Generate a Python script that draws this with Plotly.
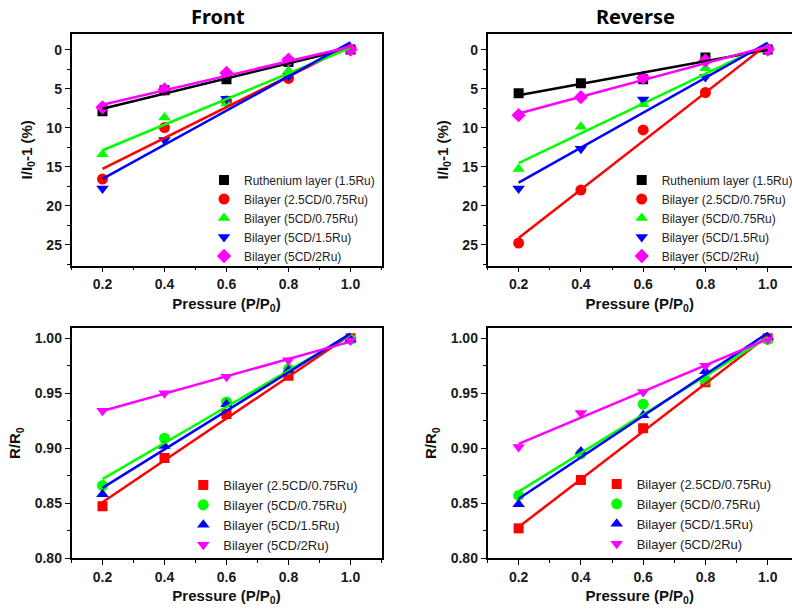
import numpy as np
import plotly.graph_objects as go

# ---------------- data ----------------
pressure = [0.2, 0.4, 0.6, 0.8, 1.0]

# Front, I/I0-1 (%)
front_i_ru15 = [7.9, 5.2, 3.8, 1.6, 0.0]
front_i_25cd075 = [16.6, 10.0, 6.6, 3.7, 0.0]
front_i_5cd075 = [13.4, 8.7, 6.9, 2.7, 0.0]
front_i_5cd15 = [17.8, 11.6, 6.3, 3.4, 0.0]
front_i_5cd2 = [7.4, 5.1, 3.0, 1.3, 0.0]

# Reverse, I/I0-1 (%)
rev_i_ru15 = [5.6, 4.3, 3.8, 1.0, 0.0]
rev_i_25cd075 = [24.8, 18.0, 10.3, 5.5, 0.0]
rev_i_5cd075 = [15.3, 9.9, 7.0, 2.4, 0.0]
rev_i_5cd15 = [17.8, 12.7, 6.4, 3.5, 0.0]
rev_i_5cd2 = [8.4, 6.1, 3.6, 1.4, 0.0]

# Front, R/R0
front_r_25cd075 = [0.847, 0.891, 0.931, 0.966, 1.000]
front_r_5cd075 = [0.866, 0.909, 0.942, 0.972, 0.999]
front_r_5cd15 = [0.858, 0.902, 0.940, 0.971, 0.999]
front_r_5cd2 = [0.934, 0.950, 0.965, 0.980, 0.998]

# Reverse, R/R0
rev_r_25cd075 = [0.827, 0.871, 0.918, 0.960, 1.000]
rev_r_5cd075 = [0.857, 0.895, 0.940, 0.962, 0.999]
rev_r_5cd15 = [0.849, 0.897, 0.930, 0.970, 1.001]
rev_r_5cd2 = [0.901, 0.932, 0.951, 0.975, 0.999]

names_top = ["Ruthenium layer (1.5Ru)", "Bilayer (2.5CD/0.75Ru)", "Bilayer (5CD/0.75Ru)",
             "Bilayer (5CD/1.5Ru)", "Bilayer (5CD/2Ru)"]
names_bot = ["Bilayer (2.5CD/0.75Ru)", "Bilayer (5CD/0.75Ru)", "Bilayer (5CD/1.5Ru)",
             "Bilayer (5CD/2Ru)"]

colors_top = ["#000000", "#FF0000", "#00FF00", "#0000FF", "#FF00FF"]
symbols_top = ["square", "circle", "triangle-up", "triangle-down", "diamond"]
sizes_top = [10, 11, 11, 11, 11]
colors_bot = ["#FF0000", "#00FF00", "#0000FF", "#FF00FF"]
symbols_bot = ["square", "circle", "triangle-up", "triangle-down"]
sizes_bot = [10, 11, 11, 11]

panels = [
    ("x", "y", "legend", [front_i_ru15, front_i_25cd075, front_i_5cd075, front_i_5cd15, front_i_5cd2],
     names_top, colors_top, symbols_top, sizes_top),
    ("x2", "y2", "legend2", [rev_i_ru15, rev_i_25cd075, rev_i_5cd075, rev_i_5cd15, rev_i_5cd2],
     names_top, colors_top, symbols_top, sizes_top),
    ("x3", "y3", "legend3", [front_r_25cd075, front_r_5cd075, front_r_5cd15, front_r_5cd2],
     names_bot, colors_bot, symbols_bot, sizes_bot),
    ("x4", "y4", "legend4", [rev_r_25cd075, rev_r_5cd075, rev_r_5cd15, rev_r_5cd2],
     names_bot, colors_bot, symbols_bot, sizes_bot),
]

fig = go.Figure()
for xa, ya, lg, series, names, cols, syms, sz in panels:
    for vals, nm, c, s, ms in zip(series, names, cols, syms, sz):
        fig.add_trace(go.Scatter(x=pressure, y=vals, mode="markers", name=nm,
                                 marker=dict(color=c, symbol=s, size=ms, line=dict(width=0)),
                                 xaxis=xa, yaxis=ya, legend=lg))
    for vals, c in zip(series, cols):
        k, b = np.polyfit(pressure, vals, 1)
        xe = [pressure[0], pressure[-1]]
        fig.add_trace(go.Scatter(x=xe, y=[k * v + b for v in xe], mode="lines",
                                 line=dict(color=c, width=2.5), showlegend=False,
                                 hoverinfo="skip", xaxis=xa, yaxis=ya))

W, H = 792, 610
def px_x(a, b):
    return [a / W, b / W]
def px_y(top, bottom):
    return [(H - bottom) / H, (H - top) / H]

tickfont = dict(family="Liberation Sans, Arial", size=14, color="#1a1a1a", weight="bold")
titlefont = dict(family="Liberation Sans, Arial", size=15, color="#111111", weight="bold")

def xax(dom, rng, anchor):
    return dict(domain=dom, range=rng, anchor=anchor, showgrid=False, zeroline=False,
                showline=True, linecolor="black", linewidth=1.5, mirror=True,
                ticks="outside", ticklen=5, tickwidth=1.2, tickcolor="black",
                tick0=0.2, dtick=0.2, tickformat=".1f", tickfont=tickfont,
                minor=dict(dtick=0.1, tick0=0.1, ticks="outside", ticklen=3, tickwidth=1.2, tickcolor="black"),
                title=dict(text="Pressure (P/P<sub>0</sub>)", font=titlefont, standoff=7))

def yax(dom, rng, anchor, dt, mdt, fmt, title):
    return dict(domain=dom, range=rng, anchor=anchor, showgrid=False, zeroline=False,
                showline=True, linecolor="black", linewidth=1.5, mirror=True,
                ticks="outside", ticklen=5, tickwidth=1.2, tickcolor="black",
                tick0=0, dtick=dt, tickformat=fmt, tickfont=tickfont,
                minor=dict(dtick=mdt, ticks="outside", ticklen=3, tickwidth=1.2, tickcolor="black"),
                title=dict(text=title, font=titlefont, standoff=10))

xl = px_x(71.5, 381.5)
xr = px_x(487.5, 792)
yt = px_y(34, 265.7)
yb = px_y(328.3, 558)
rng_l = [0.1, 1.1]
rng_r = [0.1, 1.078]
rng_top = [27.7, -2.0]
rng_bot = [0.8, 1.0091]

legfont_top = dict(family="Liberation Sans, Arial", size=12, color="#222222")
legfont_bot = dict(family="Liberation Sans, Arial", size=13, color="#222222")

def leg(xm, ym, font):
    return dict(x=(xm - 20) / W, y=(H - ym) / H, xanchor="left", yanchor="middle",
                bgcolor="rgba(0,0,0,0)", borderwidth=0, font=font, tracegroupgap=0)

fig.update_layout(
    width=W, height=H, margin=dict(l=0, r=0, t=0, b=0, autoexpand=False),
    paper_bgcolor="white", plot_bgcolor="white",
    xaxis=xax(xl, rng_l, "y"),
    yaxis=yax(yt, rng_top, "x", 5, 2.5, "d", "I/I<sub>0</sub>-1 (%)"),
    xaxis2=xax(xr, rng_r, "y2"),
    yaxis2=yax(yt, rng_top, "x2", 5, 2.5, "d", "I/I<sub>0</sub>-1 (%)"),
    xaxis3=xax(xl, rng_l, "y3"),
    yaxis3=yax(yb, rng_bot, "x3", 0.05, 0.025, ".2f", "R/R<sub>0</sub>"),
    xaxis4=xax(xr, rng_r, "y4"),
    yaxis4=yax(yb, rng_bot, "x4", 0.05, 0.025, ".2f", "R/R<sub>0</sub>"),
    legend=leg(224, 218, legfont_top),
    legend2=leg(641.7, 218, legfont_top),
    legend3=leg(203.3, 515, legfont_bot),
    legend4=leg(616.7, 514, legfont_bot),
    showlegend=True,
    annotations=[
        dict(text="Front", x=218 / W, y=(H - 17) / H, xref="paper", yref="paper",
             showarrow=False, xanchor="center", yanchor="middle",
             font=dict(family="Noto Sans", size=20, color="black", weight="bold")),
        dict(text="Reverse", x=635 / W, y=(H - 17) / H, xref="paper", yref="paper",
             showarrow=False, xanchor="center", yanchor="middle",
             font=dict(family="Noto Sans", size=20, color="black", weight="bold")),
    ],
)

fig.write_html("out.html")
